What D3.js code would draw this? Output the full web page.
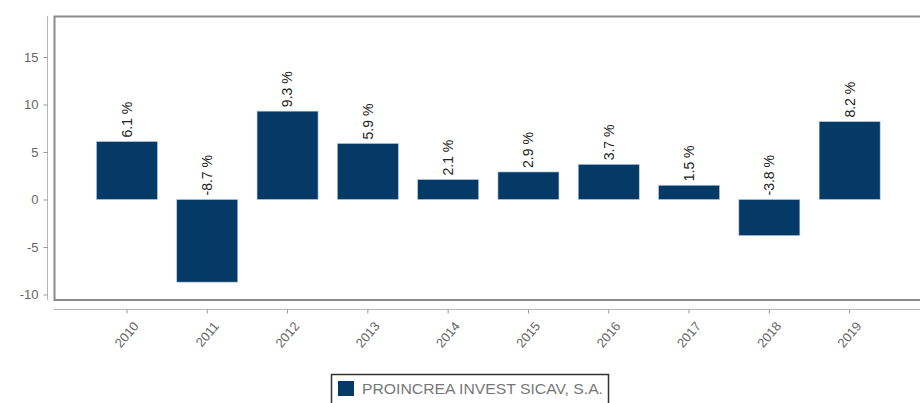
<!DOCTYPE html>
<html>
<head>
<meta charset="utf-8">
<script src="https://cdn.jsdelivr.net/npm/d3@7"></script>
<style>
  body { margin: 0; background: #fff; }
  svg { display: block; font-family: "Liberation Sans", Arial, sans-serif; }
</style>
</head>
<body>
<svg id="chart" width="920" height="403"></svg>
<script>
// data
var years = ["2010","2011","2012","2013","2014","2015","2016","2017","2018","2019"]
var returns = [6.1, -8.7, 9.3, 5.9, 2.1, 2.9, 3.7, 1.5, -3.8, 8.2]
var yTicks = [-10, -5, 0, 5, 10, 15]
var seriesName = "PROINCREA INVEST SICAV, S.A."

const svg = d3.select("#chart")
const barColor = "#063a66"

var x = d3.scaleBand()
  .domain(years)
  .range([86.8, 889.8])
  .paddingInner(0.24)
  .paddingOuter(0.12)

var y = d3.scaleLinear()
  .domain([-10, 15])
  .range([294.5, 57])

// plot frame
svg.append("rect")
  .attr("x", 54.5).attr("y", 16.5)
  .attr("width", 900).attr("height", 283.5)
  .attr("fill", "none")
  .attr("stroke", "#8a8a8a")
  .attr("stroke-width", 2)

// y axis
svg.append("line")
  .attr("x1", 47.5).attr("x2", 47.5)
  .attr("y1", 16).attr("y2", 300)
  .attr("stroke", "#b5b5b5")
var yAxis = svg.append("g")
  .attr("transform", "translate(47.5,0)")
  .call(d3.axisLeft(y).tickValues(yTicks).tickFormat(function(d){ return String(d) }).tickSize(4).tickPadding(5))
yAxis.select(".domain").remove()
yAxis.selectAll("line").attr("stroke", "#999")
yAxis.selectAll("text").attr("fill", "#666").style("font-size", "13px")

// x axis
svg.append("line")
  .attr("x1", 54).attr("x2", 920)
  .attr("y1", 309.5).attr("y2", 309.5)
  .attr("stroke", "#b5b5b5")
var xAxis = svg.append("g")
  .attr("transform", "translate(0,309.5)")
  .call(d3.axisBottom(x).tickSize(4).tickPadding(6))
xAxis.select(".domain").remove()
xAxis.selectAll("line").attr("stroke", "#999")
xAxis.selectAll("text")
  .attr("fill", "#666")
  .style("font-size", "13px")
  .style("text-anchor", "end")
  .attr("x", null)
  .attr("y", null)
  .attr("dy", "0.35em")
  .attr("transform", "translate(9,14) rotate(-50)")

// bars
svg.append("g")
  .selectAll("rect")
  .data(d3.zip(years, returns))
  .enter()
  .append("rect")
  .attr("x", function(d){ return x(d[0]) })
  .attr("width", x.bandwidth())
  .attr("y", function(d){ return y(Math.max(0, d[1])) })
  .attr("height", function(d){ return Math.abs(y(d[1]) - y(0)) })
  .attr("fill", barColor)
  .attr("stroke", "#b8cde2")
  .attr("stroke-width", 0.6)

// value labels
svg.append("g")
  .selectAll("text")
  .data(d3.zip(years, returns))
  .enter()
  .append("text")
  .attr("transform", function(d){
    var cx = x(d[0]) + x.bandwidth() / 2
    var cy = y(Math.max(0, d[1])) - 4
    return "translate(" + cx + "," + cy + ") rotate(-90)"
  })
  .attr("dy", "0.35em")
  .style("font-size", "14px")
  .attr("fill", "#222")
  .text(function(d){ return d[1].toFixed(1) + " %" })

// legend
var legend = svg.append("g")
legend.append("rect")
  .attr("x", 331.5).attr("y", 374.5)
  .attr("width", 277).attr("height", 40)
  .attr("fill", "#fff")
  .attr("stroke", "#333")
  .attr("stroke-width", 1.5)
legend.append("rect")
  .attr("x", 338).attr("y", 381)
  .attr("width", 16).attr("height", 15)
  .attr("fill", barColor)
legend.append("text")
  .attr("x", 362).attr("y", 394)
  .style("font-size", "14px")
  .attr("fill", "#777")
  .attr("textLength", 241)
  .attr("lengthAdjust", "spacingAndGlyphs")
  .text(seriesName)
</script>
</body>
</html>
